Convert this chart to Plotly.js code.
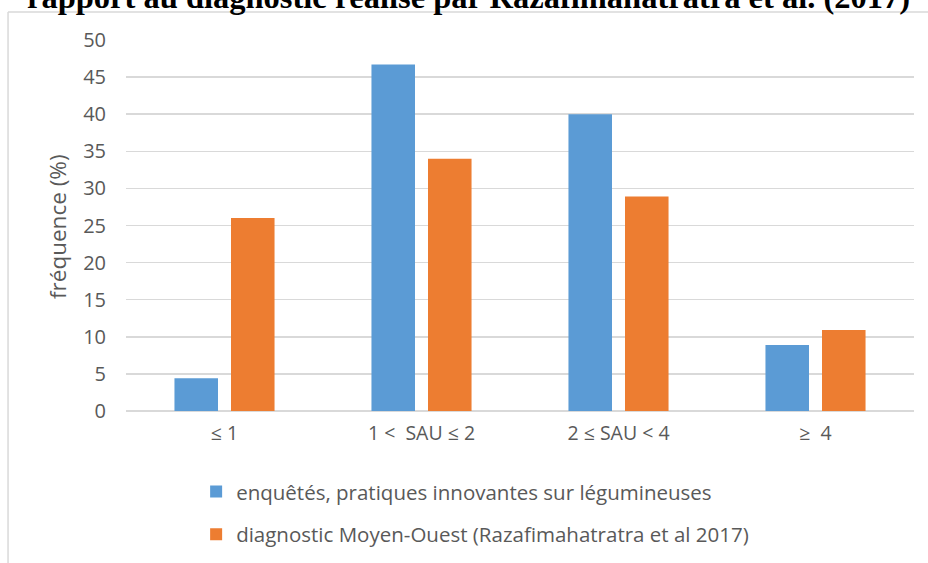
<!DOCTYPE html>
<html>
<head>
<meta charset="utf-8">
<script src="https://cdn.plot.ly/plotly-3.0.1.min.js"></script>
<style>html,body{margin:0;padding:0;background:#fff;}#chart{width:928px;height:563px;}</style>
</head>
<body>
<div id="chart"></div>
<script>
const categories = ["≤ 1", "1 <  SAU ≤ 2", "2 ≤ SAU < 4", "≥  4"];
const seriesNames = ["enquêtés, pratiques innovantes sur légumineuses", "diagnostic Moyen-Ouest (Razafimahatratra et al 2017)"];
const enquetes = [4.4, 46.7, 40, 8.9];
const diagnostic = [26, 34, 28.9, 10.9];
const yTicks = [0, 5, 10, 15, 20, 25, 30, 35, 40, 45, 50];
const titleText = "rapport au diagnostic réalisé par Razafimahatratra et al. (2017)";
const yTitle = "fréquence (%)";

const font = "'Open Sans', sans-serif";
const gray = "#595959";

const traces = [
  {type: "bar", x: categories, y: enquetes, name: seriesNames[0], marker: {color: "#5b9bd5"}, legendgroup: "a", hoverinfo: "none"},
  {type: "bar", x: categories, y: diagnostic, name: seriesNames[1], marker: {color: "#ed7d31"}, legendgroup: "b", hoverinfo: "none"}
];

const layout = {
  width: 928, height: 563,
  margin: {l: 126, r: 14, t: 40, b: 152},
  paper_bgcolor: "#fff", plot_bgcolor: "#fff",
  barmode: "group", bargap: 0.426, bargroupgap: 0.23,
  showlegend: true,
  font: {family: font, color: gray, size: 19},
  xaxis: {type: "category", tickfont: {size: 19.5, color: gray, family: font}, showgrid: false, showline: false, zeroline: false, ticks: "", ticklabelstandoff: 8},
  yaxis: {range: [0, 50], tickvals: yTicks, ticktext: yTicks.map(String), tickfont: {size: 20, color: gray, family: font}, showgrid: true, gridcolor: "#d9d9d9", gridwidth: 1.5, zeroline: true, zerolinecolor: "#d9d9d9", zerolinewidth: 1.5, showline: false, ticks: "", ticklabelstandoff: 19},
  legend: {orientation: "v", x: 0.089, xanchor: "left", y: 0.162, yref: "container", yanchor: "top", font: {size: 20.5, color: gray, family: font}, traceorder: "grouped", tracegroupgap: 13, itemwidth: 30, bgcolor: "rgba(0,0,0,0)"},
  annotations: [
    {text: "<b>" + titleText + "</b>", xref: "paper", yref: "paper", x: 0.435, xanchor: "center", y: 1.116, yanchor: "middle", showarrow: false, font: {family: "'Liberation Serif', serif", size: 32.5, color: "#000"}},
    {text: yTitle, xref: "paper", yref: "paper", x: -0.0863, xanchor: "center", y: 0.4987, yanchor: "middle", textangle: -90, showarrow: false, font: {family: font, size: 22.5, color: gray}}
  ],
  shapes: [
    {type: "line", xref: "paper", yref: "paper", x0: -0.1497, x1: -0.1497, y0: 1.0755, y1: -0.45, line: {color: "#d9d9d9", width: 1.5}},
    {type: "line", xref: "paper", yref: "paper", x0: -0.1497, x1: 1.03, y0: 1.0755, y1: 1.0755, line: {color: "#d9d9d9", width: 1.5}}
  ]
};

Plotly.newPlot("chart", traces, layout, {displayModeBar: false, staticPlot: true});
</script>
</body>
</html>
